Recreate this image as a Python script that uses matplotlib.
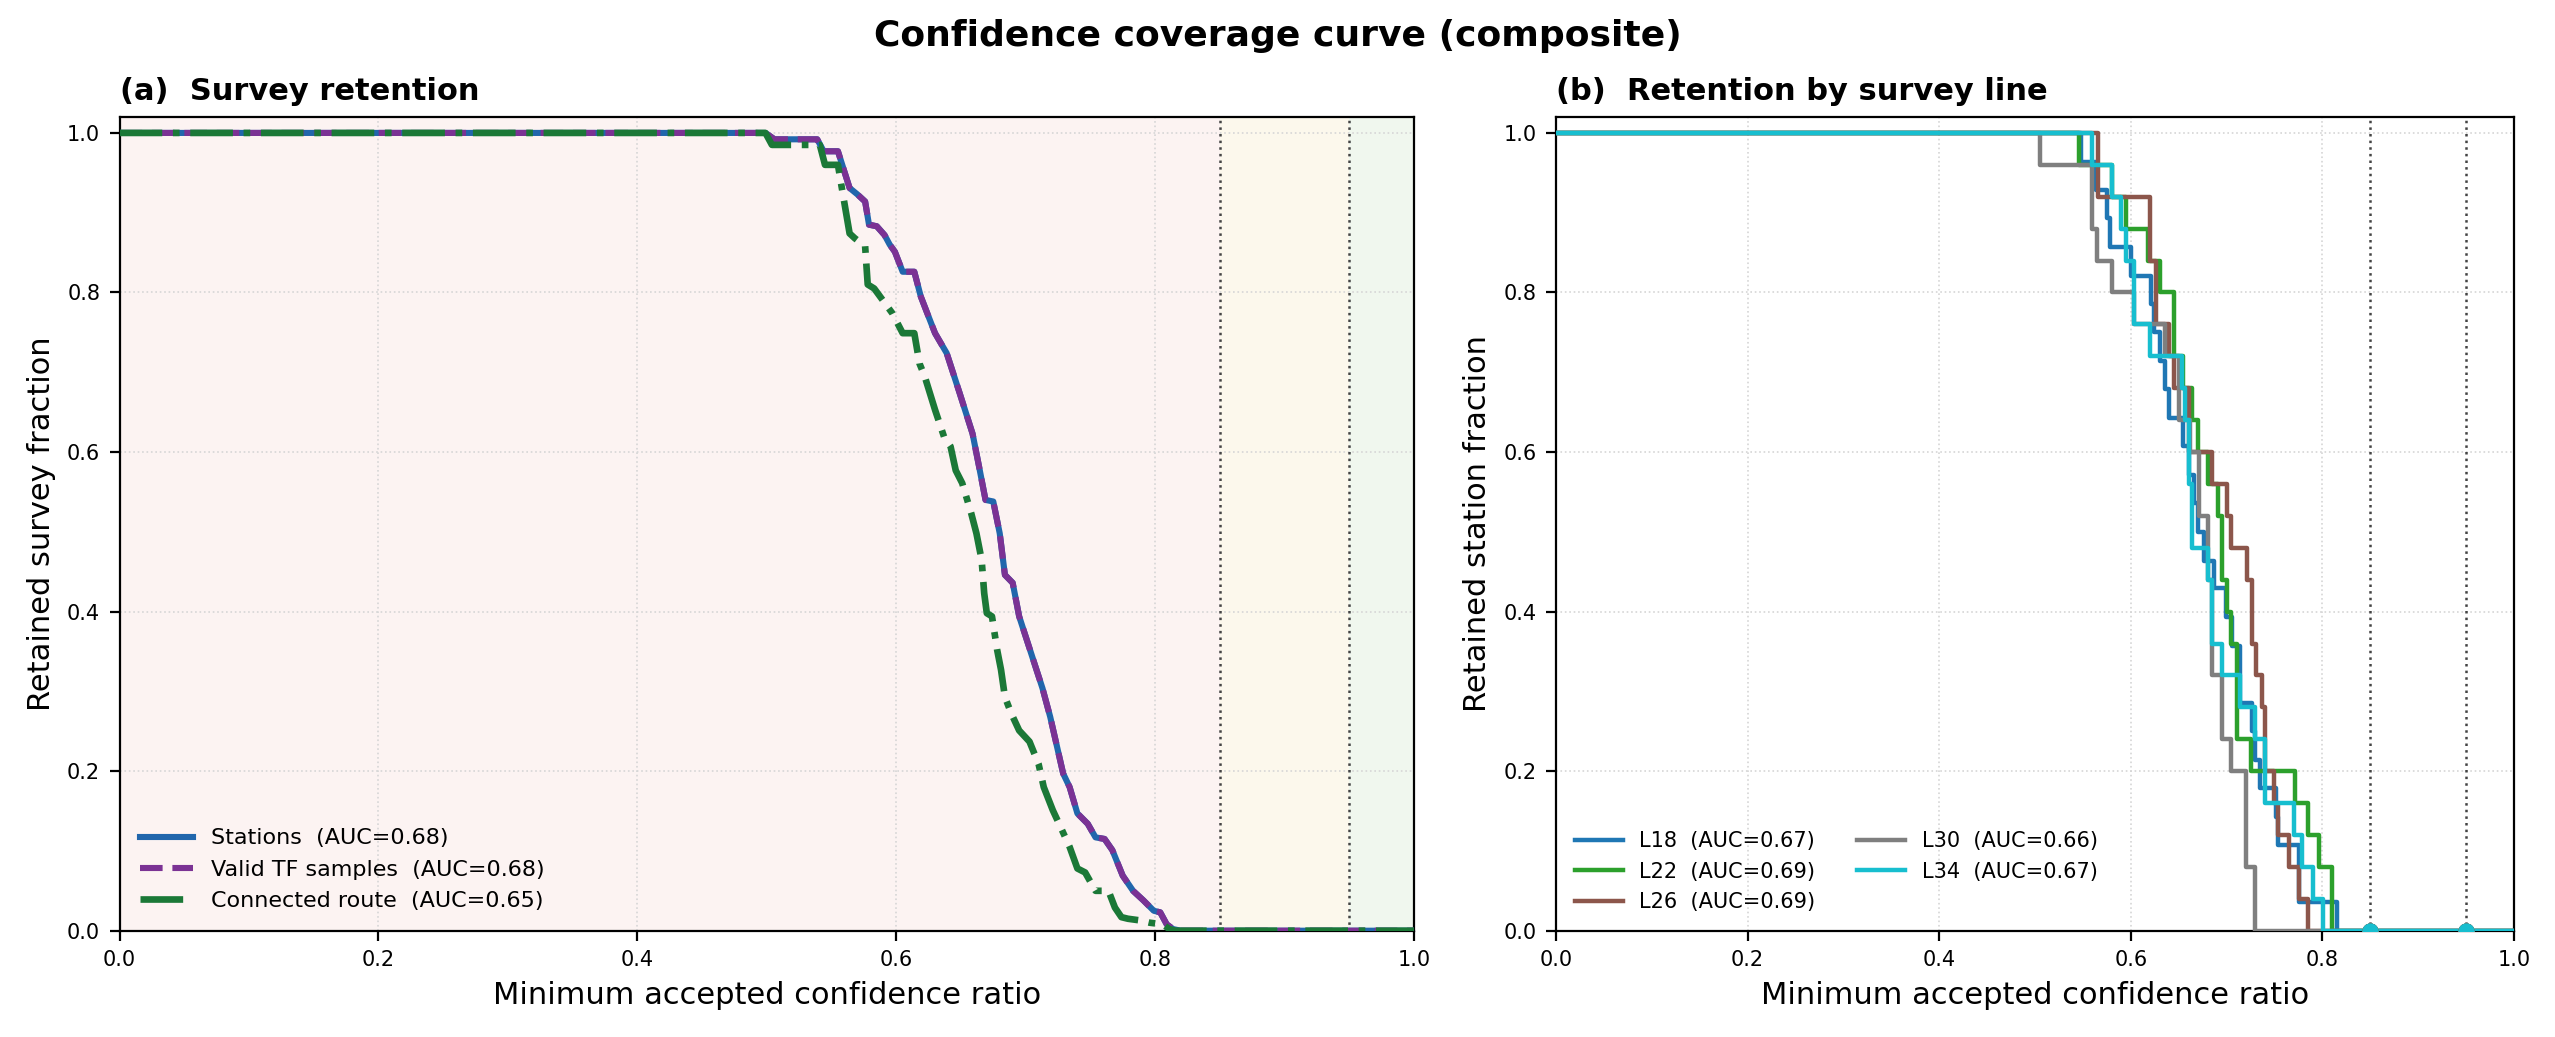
import matplotlib
matplotlib.use("Agg")
import matplotlib.pyplot as plt
import numpy as np

# ---------------- data: panel (a) ----------------
stations_x = [0.0, 0.499, 0.506, 0.539, 0.544, 0.555, 0.564, 0.570, 0.576, 0.579, 0.585,
              0.591, 0.595, 0.599, 0.605, 0.614, 0.619, 0.624, 0.630, 0.639, 0.649, 0.659,
              0.664, 0.669, 0.675, 0.680, 0.684, 0.690, 0.695, 0.703, 0.713, 0.719, 0.729,
              0.734, 0.740, 0.748, 0.754, 0.761, 0.767, 0.775, 0.783, 0.791, 0.799, 0.804,
              0.809, 0.814, 0.820, 1.0]
stations_y = [1.0, 1.0, 0.992, 0.992, 0.977, 0.977, 0.931, 0.923, 0.914, 0.885, 0.883,
              0.872, 0.860, 0.851, 0.826, 0.826, 0.795, 0.774, 0.749, 0.724, 0.674, 0.623,
              0.582, 0.540, 0.538, 0.498, 0.446, 0.436, 0.394, 0.354, 0.304, 0.268, 0.197,
              0.180, 0.147, 0.134, 0.117, 0.115, 0.101, 0.069, 0.050, 0.038, 0.025, 0.023,
              0.008, 0.002, 0.0, 0.0]
valid_x = list(stations_x)
valid_y = list(stations_y)
route_x = [0.0, 0.499, 0.504, 0.541, 0.545, 0.555, 0.558, 0.564, 0.568, 0.576, 0.578,
           0.583, 0.597, 0.605, 0.614, 0.618, 0.622, 0.630, 0.637, 0.642, 0.646, 0.651,
           0.658, 0.662, 0.666, 0.668, 0.670, 0.674, 0.678, 0.681, 0.684, 0.689, 0.695,
           0.703, 0.710, 0.714, 0.721, 0.727, 0.734, 0.740, 0.746, 0.754, 0.764, 0.769,
           0.774, 0.779, 0.788, 0.796, 0.806, 0.811, 0.816, 1.0]
route_y = [1.0, 1.0, 0.985, 0.985, 0.960, 0.960, 0.931, 0.874, 0.868, 0.858, 0.810,
           0.805, 0.774, 0.749, 0.749, 0.711, 0.695, 0.653, 0.619, 0.607, 0.577, 0.561,
           0.523, 0.498, 0.465, 0.423, 0.398, 0.394, 0.352, 0.327, 0.293, 0.272, 0.251,
           0.237, 0.209, 0.180, 0.151, 0.130, 0.105, 0.078, 0.073, 0.050, 0.050, 0.029,
           0.017, 0.015, 0.013, 0.010, 0.008, 0.002, 0.0, 0.0]
series_a_labels = ["Stations  (AUC=0.68)", "Valid TF samples  (AUC=0.68)",
                   "Connected route  (AUC=0.65)"]

# ---------------- data: panel (b) ----------------
line_names = ["L18", "L22", "L26", "L30", "L34"]
line_auc = [0.67, 0.69, 0.69, 0.66, 0.67]
L18_x = [0.548, 0.564, 0.575, 0.578, 0.600, 0.621, 0.624, 0.630, 0.636, 0.640, 0.654,
         0.661, 0.666, 0.670, 0.676, 0.687, 0.699, 0.706, 0.714, 0.7265, 0.730, 0.735,
         0.751, 0.754, 0.775, 0.815]
L18_y = [0.964, 0.929, 0.893, 0.857, 0.821, 0.786, 0.750, 0.714, 0.679, 0.643, 0.607,
         0.571, 0.536, 0.500, 0.464, 0.429, 0.393, 0.357, 0.286, 0.250, 0.214, 0.179,
         0.143, 0.107, 0.036, 0.0]
L22_x = [0.546, 0.580, 0.595, 0.618, 0.630, 0.645, 0.654, 0.664, 0.670, 0.680, 0.691,
         0.695, 0.700, 0.705, 0.711, 0.725, 0.771, 0.785, 0.796, 0.810]
L22_y = [0.96, 0.92, 0.88, 0.84, 0.80, 0.72, 0.68, 0.64, 0.60, 0.56, 0.52,
         0.44, 0.40, 0.36, 0.24, 0.20, 0.16, 0.12, 0.08, 0.0]
L26_x = [0.566, 0.620, 0.626, 0.640, 0.645, 0.661, 0.685, 0.700, 0.705, 0.721, 0.726,
         0.731, 0.737, 0.740, 0.749, 0.754, 0.765, 0.775, 0.785]
L26_y = [0.92, 0.84, 0.76, 0.72, 0.68, 0.60, 0.56, 0.52, 0.48, 0.44, 0.36,
         0.32, 0.28, 0.20, 0.16, 0.12, 0.08, 0.04, 0.0]
L30_x = [0.505, 0.559, 0.565, 0.580, 0.603, 0.636, 0.650, 0.662, 0.671, 0.680, 0.685,
         0.695, 0.704, 0.720, 0.730]
L30_y = [0.96, 0.88, 0.84, 0.80, 0.76, 0.72, 0.64, 0.60, 0.52, 0.44, 0.32,
         0.24, 0.20, 0.08, 0.0]
L34_x = [0.559, 0.580, 0.590, 0.595, 0.603, 0.620, 0.653, 0.656, 0.661, 0.664, 0.680,
         0.685, 0.695, 0.714, 0.730, 0.740, 0.770, 0.779, 0.790, 0.801]
L34_y = [0.96, 0.92, 0.88, 0.84, 0.76, 0.72, 0.68, 0.64, 0.56, 0.48, 0.44,
         0.36, 0.32, 0.28, 0.24, 0.16, 0.12, 0.08, 0.04, 0.0]
line_drops_x = [L18_x, L22_x, L26_x, L30_x, L34_x]
line_drops_y = [L18_y, L22_y, L26_y, L30_y, L34_y]
thresholds = [0.85, 0.95]
marker_vals = [[0.0, 0.0] for _ in line_names]

ticks = [0.0, 0.2, 0.4, 0.6, 0.8, 1.0]
tick_labels = ["0.0", "0.2", "0.4", "0.6", "0.8", "1.0"]

# ---------------- styling ----------------
plt.rcParams["font.family"] = ["DejaVu Sans"]
line_colors = ["#1f77b4", "#2ca02c", "#8c564b", "#7f7f7f", "#17becf"]

fig = plt.figure(figsize=(12.775, 5.185), dpi=200)
axa = fig.add_axes([0.0468, 0.1025, 0.5066, 0.7847])
axb = fig.add_axes([0.609, 0.1025, 0.375, 0.7847])

# panel (a)
axa.axvspan(0.0, 0.85, color="#fcf3f2", zorder=0, lw=0)
axa.axvspan(0.85, 0.95, color="#fcf8ec", zorder=0, lw=0)
axa.axvspan(0.95, 1.0, color="#f0f7ee", zorder=0, lw=0)
axa.plot(stations_x, stations_y, color="#2166ac", lw=2.2, ls="-",
         label=series_a_labels[0], zorder=3)
axa.plot(valid_x, valid_y, color="#7b3294", lw=2.2, ls="--",
         label=series_a_labels[1], zorder=4)
axa.plot(route_x, route_y, color="#1b7837", lw=2.4, ls="-.",
         label=series_a_labels[2], zorder=5)

for ax in (axa, axb):
    for t in thresholds:
        ax.axvline(t, color="#444444", lw=0.9, ls=":", zorder=2)
    ax.set_xlim(0, 1)
    ax.set_ylim(0, 1.02)
    ax.set_xticks(ticks)
    ax.set_xticklabels(tick_labels)
    ax.set_yticks(ticks)
    ax.set_yticklabels(tick_labels)
    ax.tick_params(labelsize=7.5)
    ax.grid(True, ls=":", lw=0.6, color="#d6d6d6", zorder=1)
    ax.set_axisbelow(True)
    ax.set_xlabel("Minimum accepted confidence ratio", fontsize=11)

axa.set_ylabel("Retained survey fraction", fontsize=11)
axa.set_title("(a)  Survey retention", loc="left", fontsize=11, fontweight="bold")
axa.legend(loc="lower left", frameon=False, fontsize=8, handlelength=2.4)

# panel (b)
for name, auc, xs, ys, c in zip(line_names, line_auc, line_drops_x, line_drops_y, line_colors):
    sx = [0.0] + list(xs) + [1.0]
    sy = [1.0] + list(ys) + [ys[-1]]
    axb.step(sx, sy, where="post", color=c, lw=1.6, label=f"{name}  (AUC={auc:.2f})", zorder=3)
for vals, c in zip(marker_vals, line_colors):
    axb.plot(thresholds, vals, "o", color=c, ms=4.8, zorder=4)

axb.set_ylabel("Retained station fraction", fontsize=11)
axb.set_title("(b)  Retention by survey line", loc="left", fontsize=11, fontweight="bold")
axb.legend(loc="lower left", frameon=False, fontsize=7.5, ncol=2, handlelength=2.3)

fig.text(0.5, 0.965, "Confidence coverage curve (composite)", ha="center", va="center",
         fontsize=13, fontweight="bold")

fig.savefig("out.png", dpi=200)
